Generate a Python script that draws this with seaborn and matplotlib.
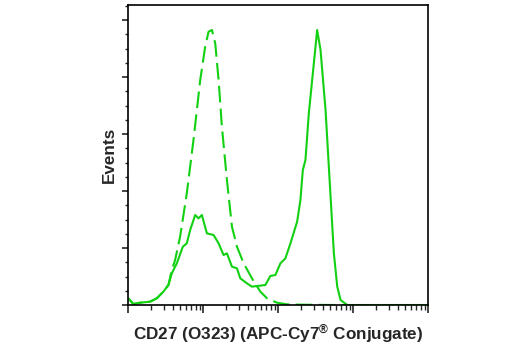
import numpy as np
import pandas as pd
import seaborn as sns
import matplotlib
matplotlib.use("Agg")
import matplotlib.pyplot as plt
from matplotlib.ticker import LogLocator, MultipleLocator, NullFormatter

# log10 intensity (decades above left axis edge) and relative event counts
solid_log = [0.004, 0.071, 0.160, 0.294, 0.383, 0.472, 0.539, 0.584, 0.651, 0.731, 0.784,
             0.829, 0.896, 0.940, 0.985, 1.052, 1.141, 1.208, 1.274, 1.319, 1.386, 1.453,
             1.497, 1.586, 1.653, 1.720, 1.832, 1.898, 1.965, 2.032, 2.099, 2.166, 2.255,
             2.299, 2.331, 2.366, 2.411, 2.478, 2.522, 2.567, 2.634, 2.701, 2.745, 2.790,
             2.834, 2.923, 4.0]
solid_events = [0.117, 0.018, 0.040, 0.058, 0.117, 0.234, 0.351, 0.556, 0.731, 1.023, 1.082,
                1.316, 1.579, 1.520, 1.579, 1.257, 1.228, 1.082, 0.877, 0.906, 0.673, 0.643,
                0.468, 0.380, 0.322, 0.333, 0.351, 0.509, 0.526, 0.731, 0.819, 1.082, 1.462,
                1.842, 2.368, 2.544, 3.363, 4.240, 4.825, 4.474, 3.421, 1.900, 0.906, 0.322,
                0.088, 0.0, 0.0]

dashed_log = [0.004, 0.071, 0.160, 0.294, 0.383, 0.472, 0.539, 0.584, 0.628, 0.695, 0.784,
              0.873, 0.963, 1.029, 1.074, 1.119, 1.163, 1.208, 1.252, 1.319, 1.386, 1.453,
              1.542, 1.653, 1.765, 1.854, 1.988, 2.121, 2.299, 2.745, 2.95]
dashed_events = [0.117, 0.018, 0.040, 0.058, 0.117, 0.234, 0.351, 0.614, 0.789, 1.199, 1.959,
                 2.895, 3.947, 4.532, 4.795, 4.825, 4.591, 3.947, 3.128, 2.193, 1.374, 1.023,
                 0.731, 0.468, 0.234, 0.117, 0.040, 0.012, 0.006, 0.0, 0.0]

green = "#12d012"

sns.set_style("ticks")
plt.rcParams['font.family'] = ['Liberation Sans', 'DejaVu Sans']
plt.rcParams['mathtext.fontset'] = 'custom'
plt.rcParams['mathtext.rm'] = 'Liberation Sans:bold'
plt.rcParams['mathtext.bf'] = 'Liberation Sans:bold'
plt.rcParams['mathtext.default'] = 'bf'

fig = plt.figure(figsize=(5.2, 3.5), dpi=100)
ax = fig.add_axes([128/520, 1-305/350, 300/520, 300/350])

df_s = pd.DataFrame({"x": 10**np.array(solid_log), "y": solid_events})
df_d = pd.DataFrame({"x": 10**np.array(dashed_log), "y": dashed_events})
sns.lineplot(data=df_d, x="x", y="y", ax=ax, color=green, lw=1.5, sort=False,
             dashes=False, linestyle=(0, (8, 3)))
sns.lineplot(data=df_s, x="x", y="y", ax=ax, color=green, lw=1.5, sort=False)

ax.set_xscale("log")
ax.set_xlim(1, 1e4)
ax.set_ylim(0, 300/57)
ax.xaxis.set_major_locator(LogLocator(base=10, numticks=10))
ax.xaxis.set_minor_locator(LogLocator(base=10, subs=np.arange(2, 10), numticks=20))
ax.xaxis.set_major_formatter(NullFormatter())
ax.xaxis.set_minor_formatter(NullFormatter())
ax.yaxis.set_major_locator(MultipleLocator(1))
ax.yaxis.set_minor_locator(MultipleLocator(0.25))
ax.yaxis.set_major_formatter(NullFormatter())

for s in ax.spines.values():
    s.set_linewidth(1.2)
    s.set_color("black")
    s.set_visible(True)
ax.tick_params(axis="x", which="major", length=6, width=1.2, direction="out")
ax.tick_params(axis="x", which="minor", length=3.5, width=1.0, direction="out")
ax.tick_params(axis="y", which="major", length=4.5, width=1.2, direction="out")
ax.tick_params(axis="y", which="minor", length=2.5, width=1.0, direction="out")

ax.set_xlabel("CD27 (O323) (APC-Cy7$^{®}$ Conjugate)", fontsize=12.3, fontweight="bold",
              labelpad=3)
ax.set_ylabel("Events", fontsize=12.3, fontweight="bold", labelpad=0)

fig.savefig("out.png", dpi=100)
